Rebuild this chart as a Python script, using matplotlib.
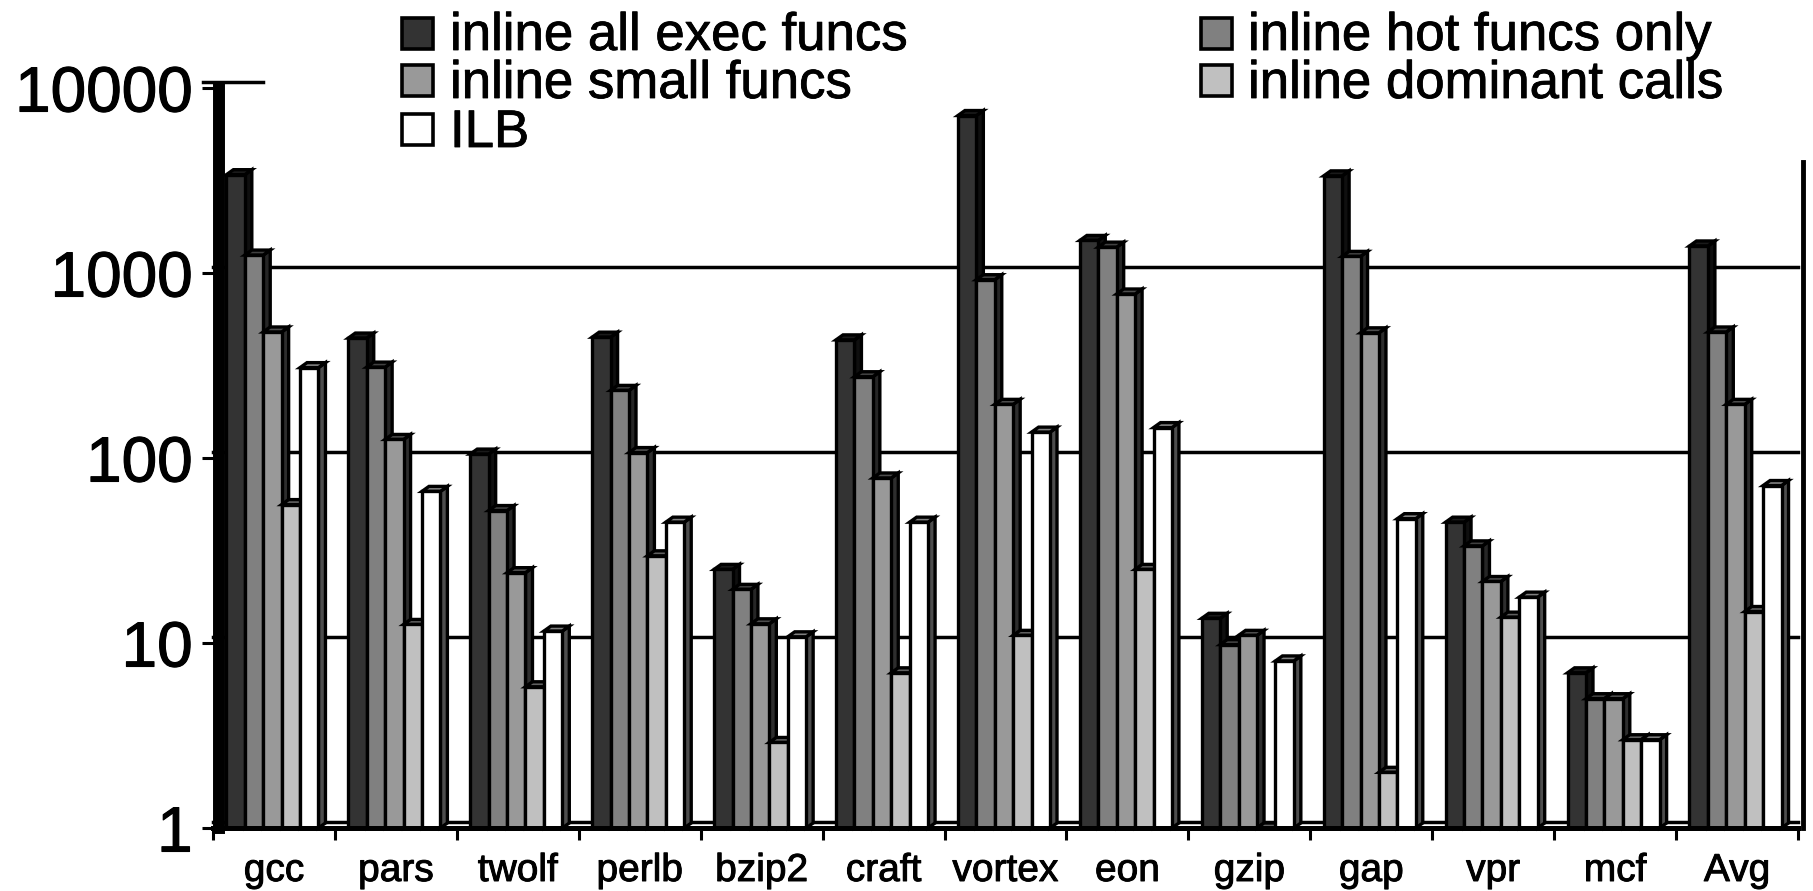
import numpy as np
import matplotlib.pyplot as plt
import matplotlib.colors as mcolors
import matplotlib.patheffects as pe
from matplotlib.patches import Polygon, Rectangle
from matplotlib.transforms import ScaledTranslation

plt.rcParams['font.family'] = 'Liberation Sans'

benchmarks = ['gcc', 'pars', 'twolf', 'perlb', 'bzip2', 'craft', 'vortex',
              'eon', 'gzip', 'gap', 'vpr', 'mcf', 'Avg']
all_exec = [3400, 445, 105, 450, 25, 435, 7100, 1500, 13.6, 3350, 45, 6.9, 1400]
hot_only = [1250, 310, 52, 232, 19.5, 275, 920, 1380, 9.8, 1230, 33.5, 5, 480]
small_funcs = [480, 126, 24, 107, 12.7, 78, 195, 770, 11, 475, 21.5, 5, 195]
dominant = [56, 12.6, 5.8, 29.6, 2.9, 6.9, 11, 25, 1, 2, 13.8, 3, 14.8]
ilb = [308, 66, 11.6, 45, 10.8, 45, 138, 146, 8, 47, 17.7, 3, 71]

series = [all_exec, hot_only, small_funcs, dominant, ilb]
names = ['inline all exec funcs', 'inline hot funcs only', 'inline small funcs',
         'inline dominant calls', 'ILB']
colors = ['#333333', '#808080', '#999999', '#c0c0c0', '#ffffff']
yticks = [1, 10, 100, 1000, 10000]

W, H, DPI = 1813, 891, 100
fig = plt.figure(figsize=(W / DPI, H / DPI), dpi=DPI)
ax = fig.add_axes([213 / W, 63 / H, 1585 / W, 740 / H])
ax.set_yscale('log')
ax.set_ylim(1, 10000)
ax.set_xlim(0, len(benchmarks))

# 3d look: depth in pixels (right / up)
dx, dy = 7, 5
pitch = 0.151
start = 0.11
to_data = ax.transData.inverted()


def shift(x, y):
    px, py = ax.transData.transform((x, y))
    return to_data.transform((px + dx, py + dy))


xg = np.arange(len(benchmarks))
for j, (vals, col) in enumerate(zip(series, colors)):
    z = 3 + j
    rgb = np.array(mcolors.to_rgb(col))
    side_c = rgb * 0.3
    top_c = rgb * 0.5
    x0s = xg + start + j * pitch
    for x0, v in zip(x0s, vals):
        x1 = x0 + pitch
        side = [(x1, 1), (x1, v), shift(x1, v), shift(x1, 1)]
        top = [(x0, v), (x1, v), shift(x1, v), shift(x0, v)]
        ax.add_patch(Polygon(side, closed=True, facecolor=side_c, edgecolor='black',
                             lw=2.4, zorder=z, clip_on=False))
        ax.add_patch(Polygon(top, closed=True, facecolor=top_c, edgecolor='black',
                             lw=2.4, zorder=z + 0.1, clip_on=False))
    ax.bar(x0s, np.array(vals) - 1, width=pitch, bottom=1, align='edge',
           color=col, edgecolor='black', lw=2.4, zorder=z + 0.2)

# back wall gridlines and floor edge (drawn shifted up like the 3d wall)
back = ax.transData + ScaledTranslation(0, 6 / DPI, fig.dpi_scale_trans)
for lev in [1, 10, 100, 1000]:
    ax.plot([0, len(benchmarks)], [lev, lev], color='black', lw=2.5,
            transform=back, zorder=1, clip_on=False)
ax.plot([-0.08, 0.41], [10000, 10000], color='black', lw=2.5,
        transform=back, zorder=1, clip_on=False)
right = ax.transData + ScaledTranslation(5 / DPI, 0, fig.dpi_scale_trans)
ax.plot([len(benchmarks)] * 2, [1, 4000], color='black', lw=3.5,
        transform=right, zorder=1, clip_on=False)

for s in ['top', 'right']:
    ax.spines[s].set_visible(False)
ax.spines['left'].set_linewidth(8.6)
ax.spines['left'].set_position(('outward', -4.3))
ax.spines['bottom'].set_linewidth(3.6)
ax.spines['left'].set_zorder(20)
ax.spines['bottom'].set_zorder(20)

ax.set_yticks(yticks)
ax.set_yticklabels([str(t) for t in yticks], fontsize=46)
ax.yaxis.set_minor_locator(plt.NullLocator())
ax.tick_params(axis='y', which='major', length=12, width=2.2, pad=7, direction='out')
for lab in ax.get_yticklabels():
    lab.set_path_effects([pe.withStroke(linewidth=0.8, foreground='black')])

ax.set_xticks(np.arange(len(benchmarks) + 1))
ax.set_xticklabels([])
ax.set_xticks(xg + 0.5, minor=True)
ax.set_xticklabels(benchmarks, minor=True, fontsize=28)
ax.tick_params(axis='x', which='major', length=8.6, width=2.2, direction='out')
ax.tick_params(axis='x', which='minor', length=0, pad=18)
for lab in ax.get_xticklabels(minor=True):
    lab.set_path_effects([pe.withStroke(linewidth=0.7, foreground='black')])

# legend laid out like the original (row-major, two columns)
leg_pos = [(402, 33, 450, 50), (1201, 33, 1248, 50), (402, 80, 450, 98),
           (1201, 80, 1248, 98), (402, 129, 450, 147)]
for (mx, my, tx, ty), name, col in zip(leg_pos, names, colors):
    fig.add_artist(Rectangle((mx / W, (H - my - 15.5) / H), 31 / W, 31 / H,
                             transform=fig.transFigure, facecolor=col,
                             edgecolor='black', lw=2.6))
    fig.text(tx / W, (H - ty) / H, name, fontsize=38, va='baseline', ha='left',
             path_effects=[pe.withStroke(linewidth=0.6, foreground='black')])

fig.savefig('out.png', dpi=DPI)
